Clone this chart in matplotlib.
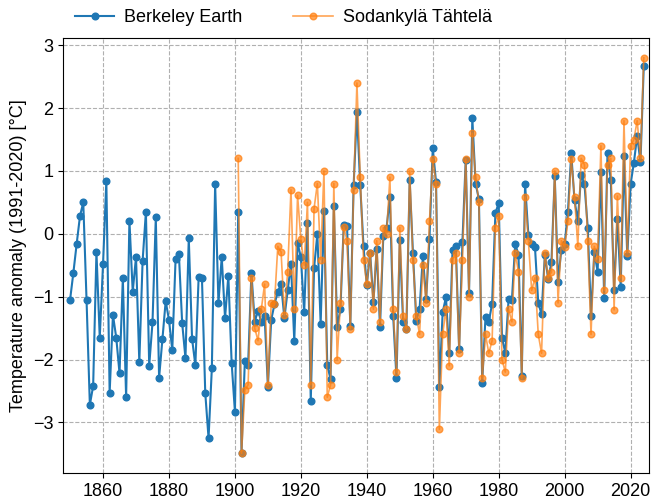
import numpy as np
import matplotlib
matplotlib.use("Agg")
import matplotlib.pyplot as plt

plt.rcParams["font.family"] = ["Liberation Sans", "DejaVu Sans"]

# Berkeley Earth, vuodet 1850-2024
be_years = np.arange(1850, 2025)
be_vals = [
    -1.05, -0.62, -0.16, 0.28, 0.50, -1.06, -2.72, -2.42, -0.29, -1.65,  # 1850-
    -0.48, 0.84, -2.53, -1.29, -1.65, -2.22, -0.71, -2.60, 0.21, -0.92,  # 1860-
    -0.37, -2.04, -0.43, 0.35, -2.10, -1.41, 0.26, -2.29, -1.67, -1.07,  # 1870-
    -1.37, -1.85, -0.40, -0.32, -1.42, -1.98, -0.07, -1.67, -2.09, -0.68,  # 1880-
    -0.71, -2.53, -3.25, -2.14, 0.79, -1.10, -0.37, -1.34, -0.67, -2.05,  # 1890-
    -2.83, 0.34, -3.49, -2.03, -2.08, -0.62, -1.40, -1.22, -1.40, -1.31,  # 1900-
    -2.43, -1.37, -1.12, -0.92, -0.80, -1.34, -0.90, -0.48, -1.70, -0.15,  # 1910-
    -0.37, -1.25, 0.17, -2.66, -0.55, 0.00, -1.43, 0.37, -2.09, -2.31,  # 1920-
    0.45, -1.49, -1.19, 0.14, 0.13, -1.46, 0.77, 1.94, 0.77, -0.20,  # 1930-
    -0.82, -0.30, -1.09, -0.24, -1.49, -0.04, 0.10, 0.59, -1.31, -2.30,  # 1940-
    -0.10, -1.40, -1.51, 0.85, -0.31, -1.38, -1.20, -0.36, -1.04, -0.08,  # 1950-
    1.36, 0.82, -2.44, -1.25, -1.01, -1.89, -0.25, -0.20, -1.84, -0.13,  # 1960-
    1.18, -0.94, 1.84, 0.80, 0.55, -2.37, -1.32, -1.40, -1.11, 0.33,  # 1970-
    0.49, -1.66, -1.89, -1.04, -1.06, -0.16, -0.33, -2.26, 0.79, -0.02,  # 1980-
    -0.16, -0.21, -1.10, -1.28, -0.33, -0.72, -0.45, 0.92, -0.76, -0.25,  # 1990-
    -0.17, 0.35, 1.28, 0.53, 0.21, 0.93, 0.80, 0.10, -1.30, -0.29,  # 2000-
    -0.60, 0.98, -1.02, 1.29, 0.85, -0.89, 0.24, -0.84, 1.24, -0.36,  # 2010-
    0.79, 1.13, 1.56, 1.14, 2.67,  # 2020-
]

# Sodankylä Tähtelä, vuodet 1901-2024
sod_years = np.arange(1901, 2025)
sod_vals = [
    1.20, -3.49, -2.49, -2.40, -0.70, -1.50, -1.70, -1.20, -0.80,  # 1901-
    -2.41, -1.10, -1.11, -0.20, -0.29, -1.29, -0.60, 0.70, -1.20, 0.61,  # 1910-
    -0.09, -0.50, 0.50, -2.40, 0.40, 0.80, -0.41, 1.00, -2.60, -2.40,  # 1920-
    0.80, -2.00, -1.10, 0.11, -0.11, -1.51, 0.70, 2.40, 0.90, -0.41,  # 1930-
    -0.80, -0.30, -1.20, -0.11, -1.40, 0.10, 0.00, 0.90, -1.20, -2.20,  # 1940-
    0.10, -1.30, -1.51, 1.00, -0.41, -1.30, -1.60, -0.50, -1.10, 0.20,  # 1950-
    1.19, 0.80, -3.11, -1.60, -1.20, -2.10, -0.41, -0.30, -1.90, -0.41,  # 1960-
    1.19, -1.00, 1.60, 0.90, 0.50, -2.30, -1.60, -1.90, -1.70, 0.10,  # 1970-
    0.29, -2.00, -2.20, -1.20, -1.40, -0.30, -0.61, -2.30, 0.59, -0.11,  # 1980-
    -0.90, -0.70, -1.60, -1.90, -0.30, -0.70, -0.61, 1.00, -1.10, -0.11,  # 1990-
    -0.21, 0.20, 1.19, 0.59, -0.20, 1.20, 1.10, -0.11, -1.60, -0.20,  # 2000-
    -0.40, 1.40, -0.90, 1.10, 1.20, -1.21, 0.60, -0.70, 1.80, -0.30,  # 2010-
    1.40, 1.50, 1.80, 1.20, 2.80,  # 2020-
]

fig = plt.figure(figsize=(6.51, 5), dpi=100)
ax = fig.add_axes([0.097, 0.054, 0.9, 0.87])

ax.plot(be_years, be_vals, marker="o", ms=4.8, lw=1.5, color="#1f77b4", label="Berkeley Earth")
ax.plot(sod_years, sod_vals, marker="o", ms=4.8, lw=1.2, color="#ff7f0e", alpha=0.7, label="Sodankylä Tähtelä")

ax.set_xlim(1847.9, 2025.6)
ax.set_xticks([1860, 1880, 1900, 1920, 1940, 1960, 1980, 2000, 2020])
ax.set_yticks([-3, -2, -1, 0, 1, 2, 3])
ax.set_yticklabels(["\u22123", "\u22122", "\u22121", "0", "1", "2", "3"])
ax.tick_params(labelsize=13)
ax.grid(True, linestyle="--", color="#b0b0b0", lw=0.8)
ax.set_ylabel("Temperature anomaly (1991-2020) [°C]", fontsize=13)

ax.legend(loc="lower left", bbox_to_anchor=(-0.008, 0.99), ncol=2, frameon=False, fontsize=13,
          handlelength=2.2, handletextpad=0.55, columnspacing=2.8)

fig.savefig("out.png", dpi=100)
